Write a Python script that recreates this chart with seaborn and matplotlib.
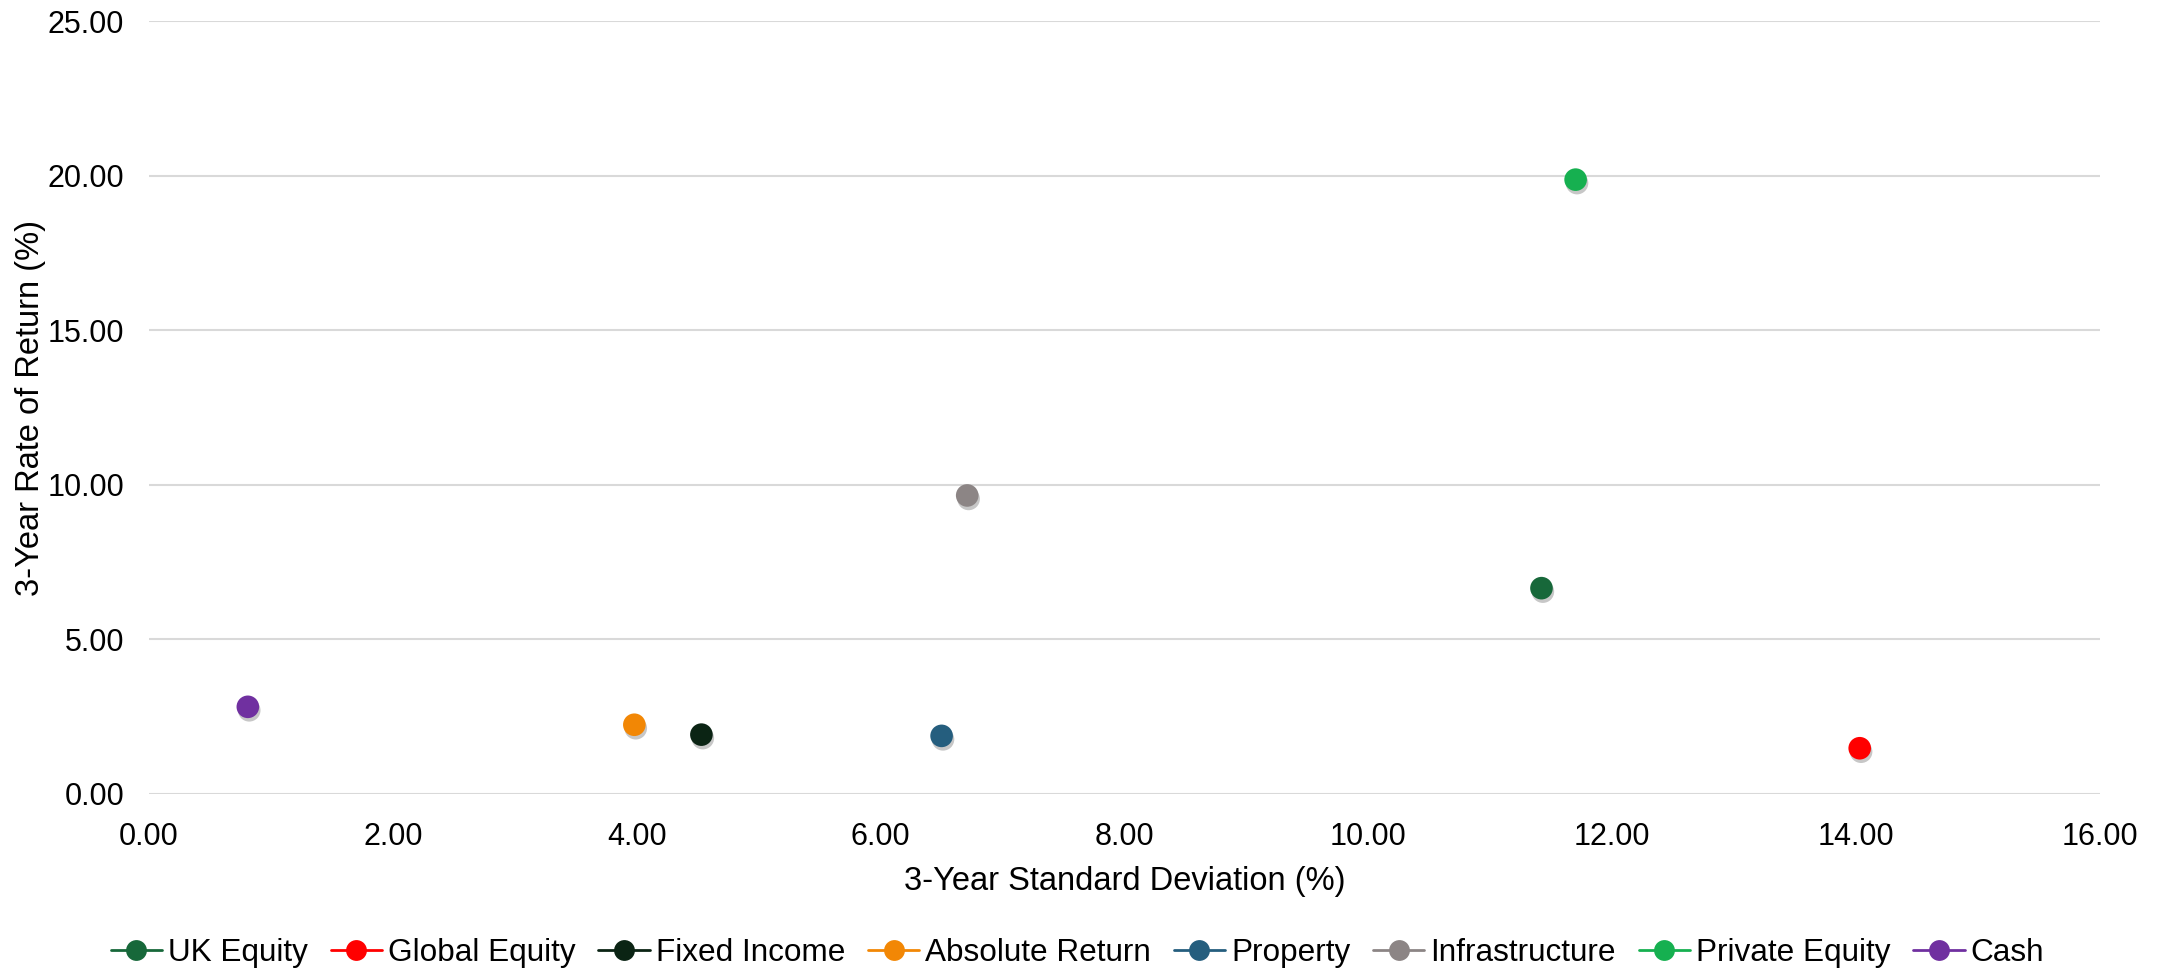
import matplotlib
matplotlib.use("Agg")
import matplotlib.pyplot as plt
import matplotlib.patheffects as pe
from matplotlib.lines import Line2D
import seaborn as sns
import pandas as pd

categories = ["UK Equity", "Global Equity", "Fixed Income", "Absolute Return",
              "Property", "Infrastructure", "Private Equity", "Cash"]
std_dev = [11.42, 14.03, 4.53, 3.98, 6.50, 6.71, 11.70, 0.81]
returns = [6.66, 1.48, 1.92, 2.24, 1.88, 9.66, 19.88, 2.82]
colors = ["#17683a", "#ff0000", "#0b2414", "#f28705", "#255e7e",
          "#8c8585", "#16b050", "#7030a0"]

x_ticks = [0, 2, 4, 6, 8, 10, 12, 14, 16]
y_ticks = [0, 5, 10, 15, 20, 25]

df = pd.DataFrame({"Category": categories, "StdDev": std_dev, "Return": returns})

sns.set_theme(style="white")
plt.rcParams["font.family"] = ["Liberation Sans", "DejaVu Sans"]
plt.rcParams["text.color"] = "black"
plt.rcParams["axes.labelcolor"] = "black"

fig = plt.figure(figsize=(21.7, 9.73), dpi=100)
ax = fig.add_axes([0.0687, 0.184, 0.8990, 0.794])

palette = dict(zip(categories, colors))
sns.scatterplot(data=df, x="StdDev", y="Return", hue="Category", palette=palette,
                s=265, linewidth=0, ax=ax, legend=False, zorder=3)
for coll in ax.collections:
    coll.set_path_effects([pe.SimplePatchShadow(offset=(1.0, -2.5), alpha=0.22, shadow_rgbFace="black"),
                           pe.Normal()])

ax.set_xlim(0, 16)
ax.set_ylim(0, 25)
ax.set_xticks(x_ticks)
ax.set_yticks(y_ticks)
ax.set_xticklabels([f"{v:.2f}" for v in x_ticks], fontsize=22)
ax.set_yticklabels([f"{v:.2f}" for v in y_ticks], fontsize=22)
ax.tick_params(axis="x", length=0, pad=20, colors="black")
ax.tick_params(axis="y", length=0, pad=18, colors="black")
ax.yaxis.grid(True, color="#d9d9d9", linewidth=1.5)
ax.xaxis.grid(False)
for s in ax.spines.values():
    s.set_visible(False)
ax.set_axisbelow(True)
ax.set_xlabel("3-Year Standard Deviation (%)", fontsize=23.5, labelpad=10)
ax.set_ylabel("3-Year Rate of Return (%)", fontsize=23.5, labelpad=1)

handles = [Line2D([0], [0], color=c, marker="o", markersize=15, linewidth=2,
                  markeredgewidth=0) for c in colors]
fig.legend(handles, categories, loc="center", bbox_to_anchor=(0.4965, 0.0206),
           ncol=8, frameon=False, fontsize=22.7, handlelength=1.63, handletextpad=0.19,
           columnspacing=0.72)

fig.savefig("out.png", dpi=100)
